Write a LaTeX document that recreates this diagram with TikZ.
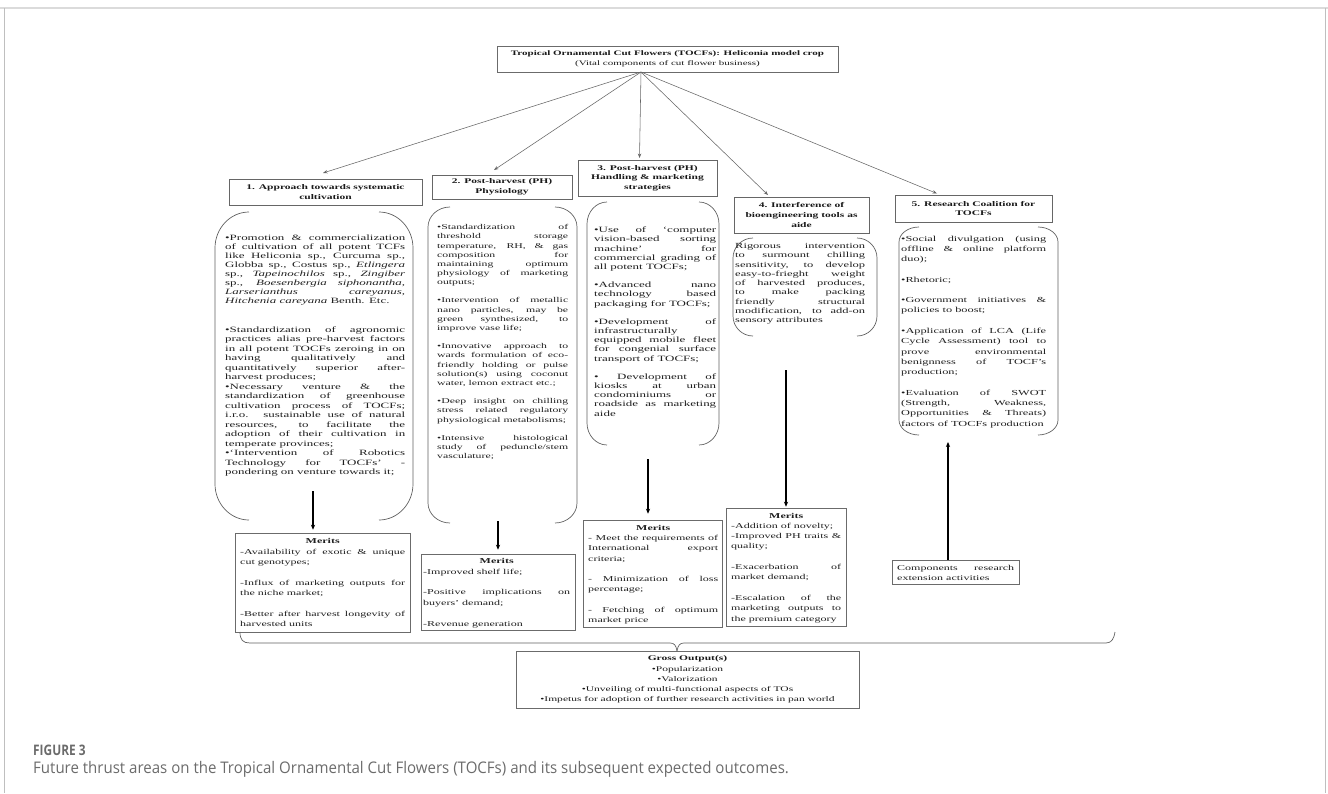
\documentclass[tikz,border=0pt]{standalone}
\usepackage{fontspec}
\setmainfont{Liberation Serif}[FakeStretch=1.6]
\newfontfamily\capfont{Open Sans}[FakeStretch=0.94]
\newfontfamily\capfontc{Open Sans}[FakeStretch=0.82]
\usetikzlibrary{arrows.meta}
\hbadness=10000
\hfuzz=20pt
\newcommand\myjl[1]{\hbox to\hsize{#1}}
\newcommand\myll[1]{\hbox{#1}}
\newcommand\myblk{\hbox{}}
\newcommand\mymid[1]{\hbox to\hsize{\hfil#1\hfil}}
\newcommand\dbr[6]{%
\draw[brk] ({#1+#5},#2) .. controls ({#1+0.45*#5},#2) and (#1,{#2+0.45*#6}) .. (#1,{#2+#6}) -- (#1,{#4-#6}) .. controls (#1,{#4-0.45*#6}) and ({#1+0.45*#5},#4) .. ({#1+#5},#4);
\draw[brk] ({#3-#5},#2) .. controls ({#3-0.45*#5},#2) and (#3,{#2+0.45*#6}) .. (#3,{#2+#6}) -- (#3,{#4-#6}) .. controls (#3,{#4-0.45*#6}) and ({#3-0.45*#5},#4) .. ({#3-#5},#4);}
\tikzset{
 brk/.style={draw=black!62, line width=0.7pt},
 hd/.style={draw=black!60, line width=0.6pt, inner sep=0pt, align=center, text=black!90,
   font=\bfseries\fontsize{7.2}{9.7}\selectfont},
 bx/.style={draw=black!58, line width=0.6pt, inner sep=0pt},
 txt/.style={anchor=base west, inner sep=0pt, text=black!88},
 fan/.style={draw=black!60, line width=0.55pt, -{Stealth[length=4.5pt,width=3.4pt]}},
 varr/.style={draw=black, line width=1.4pt, -{Stealth[length=5pt,width=4.2pt]}},
}
\begin{document}
\begin{tikzpicture}[x=1pt,y=-1pt]
\useasboundingbox (0,0) rectangle (1328,793);
% frame
\draw[black!14, line width=2pt] (0,8) -- (1328,8);
\draw[black!25, line width=1pt] (4,8) -- (4,793);
\draw[black!25, line width=1pt] (1325,8) -- (1325,793);

% title
\node[bx, minimum width=341, minimum height=26, align=center, text=black!90,
  font=\fontsize{6.9}{10}\selectfont] (title) at (667.5,59)
 {\textbf{Tropical Ornamental Cut Flowers (TOCFs): Heliconia model crop}\\(Vital components of cut flower business)};
\coordinate (src) at (641,72);

% headings
\node[hd, minimum width=193, minimum height=26] (h1) at (325.5,192) {1. Approach towards systematic\\cultivation};
\node[hd, minimum width=140, minimum height=24] (h2) at (502,187) {2. Post-harvest (PH)\\Physiology};
\node[hd, minimum width=139, minimum height=36] (h3) at (647.5,178) {3. Post-harvest (PH)\\Handling \& marketing\\strategies};
\node[hd, minimum width=135, minimum height=36] (h4) at (801.5,215) {4. Interference of\\bioengineering tools as\\aide};
\node[hd, minimum width=157, minimum height=27] (h5) at (973.5,208.5) {5. Research Coalition for\\TOCFs};

\coordinate (a1) at (323,173);
\coordinate (a2) at (494,170);
\coordinate (a3) at (639.5,158);
\coordinate (a4) at (768,195);
\coordinate (a5) at (937,193.5);
\draw[fan] (src) -- (a1);
\draw[fan] (src) -- (a2);
\draw[fan] (src) -- (a3);
\draw[fan] (src) -- (a4);
\draw[fan] (src) -- (a5);

% bubbles (double brackets)
\dbr{215}{212}{413}{520}{34}{36}
\dbr{428}{207}{577}{523}{22}{20}
\dbr{587}{202}{719}{445}{20}{22}
\dbr{733}{238}{877}{336}{20}{20}
\dbr{899}{227}{1058}{435}{20}{15}

\node[txt] (b1) at (225,240.7) {\vtop{\hsize=180pt\fontsize{8.1}{8.9}\selectfont\lineskiplimit=-20pt
\myjl{•Promotion \& commercialization}
\myjl{of cultivation of all potent TCFs}
\myjl{like Heliconia sp., Curcuma sp.,}
\myjl{Globba sp., Costus sp., \textit{Etlingera}}
\myjl{sp., \textit{Tapeinochilos} sp., \textit{Zingiber}}
\myjl{sp., \textit{Boesenbergia siphonantha,}}
\myjl{\textit{Larserianthus careyanus,}}
\myll{\textit{Hitchenia careyana} Benth. Etc.}
\baselineskip=9.5pt\vskip 19.5pt
\myjl{•Standardization of agronomic}
\myjl{practices alias pre-harvest factors}
\myjl{in all potent TOCFs zeroing in on}
\myjl{having qualitatively and}
\myjl{quantitatively superior after-}
\myll{harvest produces;}
\myjl{•Necessary venture \& the}
\myjl{standardization of greenhouse}
\myjl{cultivation process of TOCFs;}
\myjl{i.r.o. sustainable use of natural}
\myjl{resources, to facilitate the}
\myjl{adoption of their cultivation in}
\myll{temperate provinces;}
\myjl{•‘Intervention of Robotics}
\myjl{Technology for TOCFs' -}
\myll{pondering on venture towards it;}}};

\node[txt] (b2) at (437,229.7) {\vtop{\hsize=131pt\fontsize{7.35}{9.16}\selectfont\lineskiplimit=-20pt
\myjl{•Standardization of}
\myjl{threshold storage}
\myjl{temperature, RH, \& gas}
\myjl{composition for}
\myjl{maintaining optimum}
\myjl{physiology of marketing}
\myll{outputs;}
\myblk
\myjl{•Intervention of metallic}
\myjl{nano particles, may be}
\myjl{green synthesized, to}
\myll{improve vase life;}
\myblk
\myjl{•Innovative approach to}
\myjl{wards formulation of eco-}
\myjl{friendly holding or pulse}
\myjl{solution(s) using coconut}
\myll{water, lemon extract etc.;}
\myblk
\myjl{•Deep insight on chilling}
\myjl{stress related regulatory}
\myll{physiological metabolisms;}
\myblk
\myjl{•Intensive histological}
\myjl{study of peduncle/stem}
\myll{vasculature;}}};

\node[txt] (b3) at (594,232.7) {\vtop{\hsize=122pt\fontsize{8.1}{9.17}\selectfont\lineskiplimit=-20pt
\myjl{•Use of ‘computer}
\myjl{vision-based sorting}
\myjl{machine’ for}
\myjl{commercial grading of}
\myll{all potent TOCFs;}
\myblk
\myjl{•Advanced nano}
\myjl{technology based}
\myll{packaging for TOCFs;}
\myblk
\myjl{•Development of}
\myll{infrastructurally}
\myjl{equipped mobile fleet}
\myjl{for congenial surface}
\myll{transport of TOCFs;}
\myblk
\myjl{• Development of}
\myjl{kiosks at urban}
\myjl{condominiums or}
\myjl{roadside as marketing}
\myll{aide}}};

\node[txt] (b4) at (735,248.7) {\vtop{\hsize=130pt\fontsize{7.8}{9.25}\selectfont\lineskiplimit=-20pt
\myjl{Rigorous intervention}
\myjl{to surmount chilling}
\myjl{sensitivity, to develop}
\myjl{easy-to-frieght weight}
\myjl{of harvested produces,}
\myjl{to make packing}
\myjl{friendly structural}
\myjl{modification, to add-on}
\myll{sensory attributes}}};

\node[txt] (b5) at (901,241) {\vtop{\hsize=145pt\fontsize{7.7}{10.28}\selectfont\lineskiplimit=-20pt
\myjl{•Social divulgation (using}
\myjl{offline \& online platform}
\myll{duo);}
\myblk
\myll{•Rhetoric;}
\myblk
\myjl{•Government initiatives \&}
\myll{policies to boost;}
\myblk
\myjl{•Application of LCA (Life}
\myjl{Cycle Assessment) tool to}
\myjl{prove environmental}
\myjl{benignness of TOCF’s}
\myll{production;}
\myblk
\myjl{•Evaluation of SWOT}
\myjl{(Strength, Weakness,}
\myjl{Opportunities \& Threats)}
\myll{factors of TOCFs production}}};

% merits boxes
\node[bx, minimum width=175, minimum height=99] (m1) at (322.5,582.5) {};
\node[txt] (m1t) at (240,543.7) {\vtop{\hsize=165pt\fontsize{7.5}{10.4}\selectfont\lineskiplimit=-20pt
\mymid{\textbf{Merits}}
\myjl{-Availability of exotic \& unique}
\myll{cut genotypes;}
\myblk
\myjl{-Influx of marketing outputs for}
\myll{the niche market;}
\myblk
\myjl{-Better after harvest longevity of}
\myll{harvested units}}};

\node[bx, minimum width=154, minimum height=76] (m2) at (498,592) {};
\node[txt] (m2t) at (423,563.7) {\vtop{\hsize=147pt\fontsize{7.5}{10.4}\selectfont\lineskiplimit=-20pt
\mymid{\textbf{Merits}}
\myll{-Improved shelf life;}
\myblk
\myjl{-Positive implications on}
\myll{buyers’ demand;}
\myblk
\myll{-Revenue generation}}};

\node[bx, minimum width=139, minimum height=107] (m3) at (652.5,573.5) {};
\node[txt] (m3t) at (588,530.4) {\vtop{\hsize=130pt\fontsize{7.5}{10.2}\selectfont\lineskiplimit=-20pt
\mymid{\textbf{Merits}}
\myjl{- Meet the requirements of}
\myjl{International export}
\myll{criteria;}
\myblk
\myjl{- Minimization of loss}
\myll{percentage;}
\myblk
\myjl{- Fetching of optimum}
\myll{market price}}};

\node[bx, minimum width=120, minimum height=118] (m4) at (786,567) {};
\node[txt] (m4t) at (731,518) {\vtop{\hsize=110pt\fontsize{7.5}{10.3}\selectfont\lineskiplimit=-20pt
\mymid{\textbf{Merits}}
\myll{-Addition of novelty;}
\myjl{-Improved PH traits \&}
\myll{quality;}
\myblk
\myjl{-Exacerbation of}
\myll{market demand;}
\myblk
\myjl{-Escalation of the}
\myjl{marketing outputs to}
\myll{the premium category}}};

\node[bx, minimum width=127, minimum height=24] (comp) at (955.5,572) {};
\node[txt] (compt) at (897,570.7) {\vtop{\hsize=117pt\fontsize{7.5}{10}\selectfont\lineskiplimit=-20pt
\myjl{Components research}
\myll{extension activities}}};

% vertical arrows
\coordinate (s1) at (313,491);
\coordinate (s2) at (498,521);
\coordinate (s3) at (648,459);
\coordinate (s4) at (786,370);
\coordinate (s5) at (948,442);
\draw[varr, shorten >=3pt] (s1) -- (s1 |- m1.north);
\draw[varr, shorten >=4pt] (s2) -- (s2 |- m2.north);
\draw[varr, shorten >=6pt] (s3) -- (s3 |- m3.north);
\draw[varr, shorten >=1pt] (s4) -- (s4 |- m4.north);
\draw[varr] (s5 |- comp.north) -- (s5);

% gross output
\node[bx, minimum width=343, minimum height=57, align=center, text=black!90,
  font=\fontsize{7.2}{10.2}\selectfont] (gross) at (687.5,679.5)
 {\textbf{Gross Output(s)}\\•Popularization\\•Valorization\\•Unveiling of multi-functional aspects of TOs\\•Impetus for adoption of further research activities in pan world};
\coordinate (tip) at (677,651);
\draw[brk] (240,632) .. controls (240,640) and (243,643) .. (250,643) -- (670,643)
  .. controls (674,643) and (676,645) .. (tip);
\draw[brk] (tip) .. controls (678,645) and (680,643) .. (684,643) -- (1106,643)
  .. controls (1112,643) and (1114,638) .. (1115,632);

% caption
\node[anchor=base west, inner sep=0pt, text=black!58] (fig) at (33,755)
 {\capfontc\bfseries\fontsize{14.5}{16}\selectfont FIGURE 3};
\node[anchor=base west, inner sep=0pt, text=black!58] (cap) at (33,773)
 {\capfont\fontsize{16}{19}\selectfont Future thrust areas on the Tropical Ornamental Cut Flowers (TOCFs) and its subsequent expected outcomes.};
\end{tikzpicture}
\end{document}
